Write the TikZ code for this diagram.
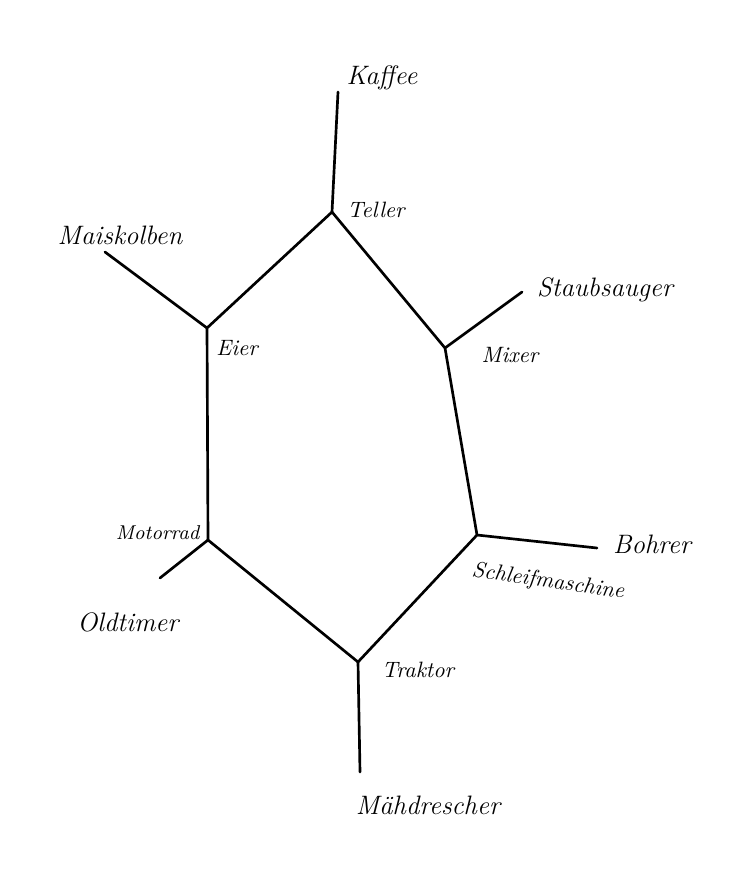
\documentclass[tikz,border=0pt]{standalone}
\usepackage{tikz}
\usetikzlibrary{positioning}
\tikzset{
  edge/.style={draw=black,line width=1.2pt,line cap=round,line join=round},
  outer/.style={font=\itshape\large,inner sep=1pt},
  inner/.style={font=\itshape,inner sep=1pt},
}
\begin{document}
\begin{tikzpicture}[x=0.45pt,y=-0.45pt]
\useasboundingbox[fill=white] (0,0) rectangle (729,896);
% ring
\coordinate (teller) at (332,212);
\coordinate (mixer) at (445,348);
\coordinate (schleif) at (477,535);
\coordinate (traktor) at (358,662);
\coordinate (motorrad) at (208,540);
\coordinate (eier) at (207,328);
% loose ends
\coordinate (kaffeeE) at (338,92);
\coordinate (maisE) at (105,252);
\coordinate (staubE) at (522,292);
\coordinate (bohrerE) at (597,548);
\coordinate (maehE) at (360,772);
\coordinate (oldE) at (160,578);
\draw[edge] (teller) -- (mixer) -- (schleif) -- (traktor) -- (motorrad) -- (eier) -- cycle;
\draw[edge] (teller) -- (kaffeeE);
\draw[edge] (eier) -- (maisE);
\draw[edge] (mixer) -- (staubE);
\draw[edge] (schleif) -- (bohrerE);
\draw[edge] (traktor) -- (maehE);
\draw[edge] (motorrad) -- (oldE);
% labels
\node[inner] (tellerL) at (376,210) {Teller};
\node[inner] (mixerL) at (510,355) {Mixer};
\node[inner] (schleifL) at (548,582) [rotate=-8] {Schleifmaschine};
\node[inner] (traktorL) at (418,670) {Traktor};
\node[inner,font=\itshape\small,anchor=east] (motorradL) at (202,533) {Motorrad};
\node[inner] (eierL) at (237,348) {Eier};
\node[outer] (kaffeeL) at (382,78) {Kaffee};
\node[outer] (maisL) at (120,235) {Maiskolben};
\node[outer] (staubL) at (605,290) {Staubsauger};
\node[outer] (bohrerL) at (652,544) {Bohrer};
\node[outer] (maehL) at (428,805) {Mähdrescher};
\node[outer] (oldL) at (128,622) {Oldtimer};
\end{tikzpicture}
\end{document}
